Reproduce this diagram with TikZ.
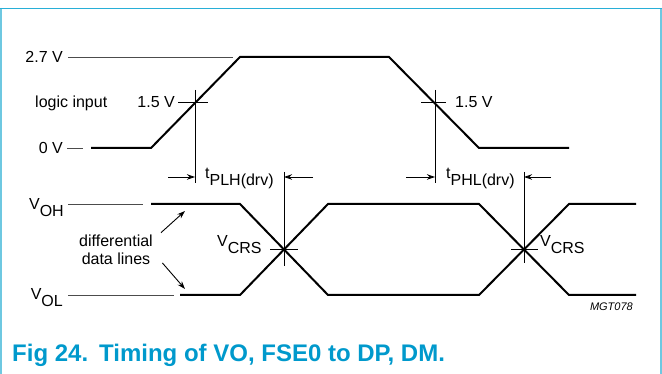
\documentclass[tikz,border=0pt]{standalone}
\usepackage{fontspec}
\setmainfont{Liberation Sans}
\usetikzlibrary{positioning,arrows.meta}
\newcommand{\lowsub}[2]{#1\raisebox{-7pt}{#2}}
\definecolor{framecol}{RGB}{110,200,225}
\definecolor{framelinetop}{RGB}{40,175,215}
\definecolor{titleblue}{RGB}{0,153,204}

\begin{document}
\begin{tikzpicture}[x=1pt,y=-1pt,
        lbl/.style={inner sep=0pt, font=\fontsize{16}{19}\selectfont},
        wave/.style={line width=2pt, line join=miter},
        refline/.style={line width=0.9pt, black!70},
        tickline/.style={line width=0.9pt},
        darrow/.style={-{Stealth[length=8pt,width=5.5pt]}, line width=0.9pt},
        node distance=4pt
        ]
        \useasboundingbox (0,0) rectangle (662,374);
        % frame
        \draw[framecol, line width=2pt] (1,8) -- (1,374);
        \draw[framecol, line width=2pt] (660.5,8) -- (660.5,374);
        \draw[framelinetop, line width=1.5pt] (0,8.5) -- (661.5,8.5);

        % logic input
        \node[lbl, anchor=base east]    (v27)   at (63,63)      {2.7 V};
        \node[lbl, anchor=base east]    (v0)    at (63,154)     {0 V};
        \node[lbl, anchor=base west]    (logic) at (35,108)     {logic input};
        \node[lbl, anchor=base east]    (th1)   at (175,108)    {1.5 V};
        \node[lbl, anchor=base west]    (th2)   at (455,108)    {1.5 V};
        \draw[refline] (68,57) -- (233,57);
        \draw[refline] (67,148) -- (83,148);
        \draw[wave] (91,148) -- (151,148) -- (240,57) -- (389,57) -- (479,148) -- (569,148);
        \coordinate (c1) at (195,102.5);
        \coordinate (c2) at (435,102.5);
        \draw[tickline] (178,102.5) -- (208,102.5) (c1 |- 0,90) -- (c1 |- 0,183);
        \draw[tickline] (421,102.5) -- (446,102.5) (c2 |- 0,90) -- (c2 |- 0,183);

        % data lines
        \node[lbl, anchor=base east]    (voh)   at (64,210)     {\lowsub{V}{OH}};
        \node[lbl, anchor=base east]    (vol)   at (63,300)     {\lowsub{V}{OL}};
        \node[lbl, anchor=base]         (diff)  at (116,246.5)  {differential};
        \node[lbl, below=6pt of diff]   (datal)                 {data lines};
        \draw[refline] (68,204) -- (143,204);
        \draw[refline] (68,295) -- (174,295);
        \draw[wave] (151,204) -- (240,204) -- (328,295) -- (479,295) -- (569,204) -- (636,204);
        \draw[wave] (180,295) -- (240,295) -- (328,204) -- (479,204) -- (569,295) -- (636,295);
        \coordinate (x1) at (284,249.5);
        \coordinate (x2) at (524,249.5);
        \node[lbl, anchor=base west]    (crs1)  at (217,247)    {\lowsub{V}{CRS}};
        \node[lbl, anchor=base west]    (crs2)  at (540,247)    {\lowsub{V}{CRS}};
        \draw[tickline] (270,249.5) -- (298,249.5) (x1 |- 0,172) -- (x1 |- 0,266);
        \draw[tickline] (511,249.5) -- (538,249.5) (x2 |- 0,172) -- (x2 |- 0,263);
        \coordinate (hi1) at (185,211);
        \coordinate (lo1) at (185,289);
        \draw[darrow] (diff.north east) ++(8,-2) -- (hi1);
        \draw[darrow] (datal.south east) ++(12,-2) -- (lo1);

        % delays
        \node[lbl, anchor=base west]    (tplh)  at (205,178.5)  {\lowsub{t}{PLH(drv)}};
        \node[lbl, anchor=base west]    (tphl)  at (446,178.5)  {\lowsub{t}{PHL(drv)}};
        \draw[darrow] (168,177) -- (c1 |- 0,177);
        \draw[darrow] (313,177) -- (x1 |- 0,177);
        \draw[darrow] (406,177) -- (c2 |- 0,177);
        \draw[darrow] (551,177) -- (x2 |- 0,177);

        \node[anchor=base east, inner sep=0pt, font=\fontsize{11}{13}\selectfont\itshape]
                (code)  at (633,311)    {MGT078};
        \node[anchor=base west, inner sep=0pt, text=titleblue, font=\fontsize{24}{28}\selectfont\bfseries]
                (title) at (12,362)     {Fig 24.\hspace{2pt} Timing of VO, FSE0 to DP, DM.};
\end{tikzpicture}
\end{document}
